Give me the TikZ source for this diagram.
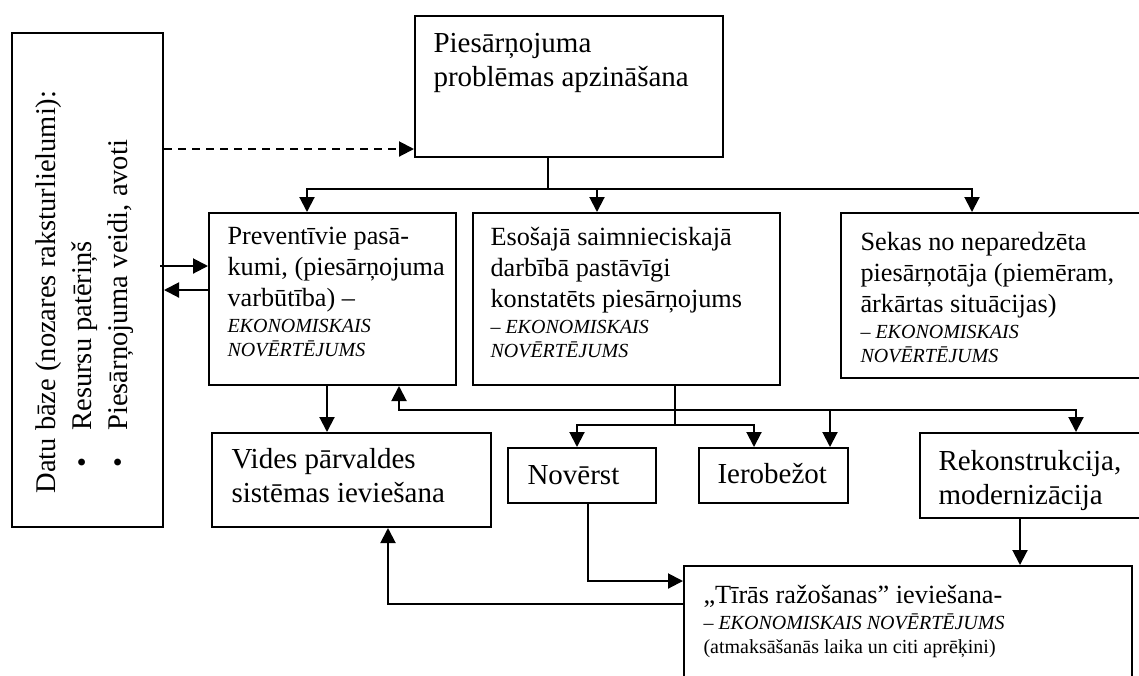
\documentclass[tikz,border=0pt]{standalone}
\usepackage{fontspec}
\setmainfont{Liberation Serif}
\usetikzlibrary{arrows.meta}

\newcommand{\bigtxt}{\fontsize{11.6}{13.6}\selectfont}
\newcommand{\sidetxt}{\fontsize{11.4}{14.4}\selectfont}
\newcommand{\midtxt}{\fontsize{10.5}{12.4}\selectfont}
\newcommand{\smtxt}{\fontsize{8}{10}\selectfont}
\newcommand{\eko}[1]{{\smtxt\itshape #1}}
\newcommand{\bul}{\makebox[25.2pt][l]{\hspace{10.4pt}•}}

\begin{document}
\begin{tikzpicture}[
  x=0.4pt, y=-0.4pt,
  box/.style 2 args={draw, line width=0.8pt, anchor=north west, inner sep=0pt,
    minimum width=#1*0.4pt, minimum height=#2*0.4pt},
  txt/.style={anchor=north west, inner sep=0pt, align=left},
  conn/.style={line width=0.8pt},
  flow/.style={conn, -{Triangle[length=6pt, width=6pt]}},
  dflow/.style={flow, dash pattern=on 3.2pt off 2.4pt}
]
\useasboundingbox (0,0) rectangle (1139,675);
\clip (0,0) rectangle (1139,675);

\node[box={151}{494}] (data) at (11,32) {};
\node[box={308}{141}] (top) at (414,15) {};
\node[box={247}{172}] (prev) at (208,212) {};
\node[box={307}{172}] (eso) at (472,212) {};
\node[box={310}{165}] (sekas) at (840,212) {};
\node[box={279}{94}] (vides) at (211,432) {};
\node[box={148}{55}] (novr) at (507,447) {};
\node[box={149}{55}] (ierob) at (698,447) {};
\node[box={231}{85}] (rekon) at (919,432) {};
\node[box={448}{135}] (tiras) at (683,565) {};

\node[txt, rotate=90, font=\sidetxt] (datatxt) at (35,494)
  {Datu bāze (nozares raksturlielumi):\\ \bul Resursu patēriņš\\ \bul Piesārņojuma veidi, avoti};
\node[txt, font=\bigtxt] (toptxt) at ([shift={(19,18)}]top.north west)
  {Piesārņojuma\\problēmas apzināšana};
\node[txt, font=\midtxt] (prevtxt) at ([shift={(19,15)}]prev.north west)
  {Preventīvie pasā-\\kumi, (piesārņojuma\\varbūtība) –\\[-2pt] \eko{EKONOMISKAIS}\\[-3pt] \eko{NOVĒRTĒJUMS}};
\node[txt, font=\midtxt] (esotxt) at ([shift={(18,15)}]eso.north west)
  {Esošajā saimnieciskajā\\darbībā pastāvīgi\\konstatēts piesārņojums\\[-2pt] \eko{– EKONOMISKAIS}\\[-3pt] \eko{NOVĒRTĒJUMS}};
\node[txt, font=\midtxt] (sekastxt) at ([shift={(20,20)}]sekas.north west)
  {Sekas no neparedzēta\\piesārņotāja (piemēram,\\ārkārtas situācijas)\\[-2pt] \eko{– EKONOMISKAIS}\\[-3pt] \eko{NOVĒRTĒJUMS}};
\node[txt, font=\bigtxt] (videstxt) at ([shift={(20,16)}]vides.north west)
  {Vides pārvaldes\\sistēmas ieviešana};
\node[txt, font=\bigtxt] (novrtxt) at ([shift={(20,18)}]novr.north west) {Novērst};
\node[txt, font=\bigtxt] (ierobtxt) at ([shift={(19,16)}]ierob.north west) {Ierobežot};
\node[txt, font=\bigtxt] (rekontxt) at ([shift={(19,18)}]rekon.north west)
  {Rekonstrukcija,\\modernizācija};
\node[txt, font=\midtxt] (tirastxt) at ([shift={(20,20)}]tiras.north west)
  {„Tīrās ražošanas” ieviešana-\\[-2pt] {\smtxt – \textit{EKONOMISKAIS NOVĒRTĒJUMS}}\\[-3pt] {\smtxt (atmaksāšanās laika un citi aprēķini)}};

\draw[dflow] ([shift={(0,117)}]data.north east) -- ([shift={(0,134)}]top.north west);
\draw[conn] ([shift={(134,0)}]top.south west) -- ++(0,31) coordinate (bus);
\draw[flow] (bus) -| ([shift={(99,0)}]prev.north west);
\draw[flow] (bus) -| ([shift={(125,0)}]eso.north west);
\draw[flow] (bus) -| ([shift={(132,0)}]sekas.north west);
\draw[flow] ([shift={(-4,234)}]data.north east) -- ([shift={(0,54)}]prev.north west);
\draw[flow] ([shift={(0,78)}]prev.north west) -- ([shift={(0,258)}]data.north east);
\draw[flow] ([shift={(119,0)}]prev.south west) -- ([shift={(119,0)}]prev.south west |- vides.north);
\draw[conn] ([shift={(203,0)}]eso.south west) -- ++(0,39) coordinate (bus2);
\coordinate (bus3) at ([shift={(203,24)}]eso.south west);
\draw[flow] (bus2) -| ([shift={(70,0)}]novr.north west);
\draw[flow] (bus2) -| ([shift={(56,0)}]ierob.north west);
\draw[flow] (bus3) -| ([shift={(191,0)}]prev.south west);
\draw[flow] (bus3) -| ([shift={(132,0)}]ierob.north west);
\draw[flow] (bus3) -| ([shift={(157,0)}]rekon.north west);
\draw[flow] ([shift={(101,0)}]rekon.south west) -- ([shift={(101,0)}]rekon.south west |- tiras.north);
\draw[flow] ([shift={(81,0)}]novr.south west) |- ([shift={(0,16)}]tiras.north west);
\draw[flow] ([shift={(0,39)}]tiras.north west) -| ([shift={(177,0)}]vides.south west);
\end{tikzpicture}
\end{document}
